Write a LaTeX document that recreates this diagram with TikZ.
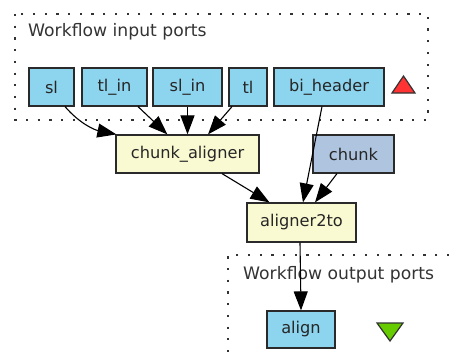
\documentclass[tikz,border=0pt]{standalone}
\usepackage{fontspec}
\setmainfont{DejaVu Sans}
\usetikzlibrary{arrows.meta,calc}
\definecolor{portblue}{HTML}{8DD4EE}
\definecolor{procyel}{HTML}{FAFAD2}
\definecolor{constblue}{HTML}{AFC4DE}
\definecolor{edgegray}{HTML}{2A2A2A}
\definecolor{trired}{HTML}{FF3333}
\definecolor{trigreen}{HTML}{66CC00}
\tikzset{
  box/.style={draw=edgegray, line width=1.2pt, rectangle, inner sep=0pt,
    font=\fontsize{16.2}{19}\selectfont, text=black!85, minimum height=38pt},
  port/.style={box, fill=portblue},
  proc/.style={box, fill=procyel},
  const/.style={box, fill=constblue},
  cluster/.style={draw=black!80, line width=2.2pt, dash pattern=on 2.2pt off 9.5pt},
  edge/.style={draw=black, line width=1.1pt, -{Triangle[length=19pt,width=14pt]}},
  title/.style={font=\fontsize{17.2}{20}\selectfont, text=black!80, anchor=base west, inner sep=0pt},
}
\begin{document}
\begin{tikzpicture}[x=1pt,y=-1pt]
\useasboundingbox (0,0) rectangle (449,361);
% clusters
\draw[cluster] (15,14) rectangle (428,120);
\draw[cluster] (449,255) -- (228,255) -- (228,361);
\node[title] (tin) at (28,37) {Workflow input ports};
\node[title] (tout) at (243,279) {Workflow output ports};
% nodes
\node[port, minimum width=45pt] (sl) at (51.5,87) {sl};
\node[port, minimum width=65pt] (tlin) at (114.5,87) {tl\_in};
\node[port, minimum width=69pt] (slin) at (187.5,87) {sl\_in};
\node[port, minimum width=38pt] (tl) at (248,87) {tl};
\node[port, minimum width=110pt] (bih) at (329,87) {bi\_header};
\node[proc, minimum width=143pt] (ca) at (187.5,154) {chunk\_aligner};
\node[const, minimum width=81pt] (chunk) at (353.5,154) {chunk};
\node[proc, minimum width=109pt, minimum height=39pt] (a2) at (301.5,222.5) {aligner2to};
\node[port, minimum width=68pt, minimum height=37pt] (align) at (301,329.5) {align};
% triangles
\filldraw[fill=trired, draw=black!80, line width=1.2pt, line join=miter] (392,93) -- (415,93) -- (403.5,76) -- cycle;
\filldraw[fill=trigreen, draw=black!80, line width=1.2pt, line join=miter] (377,323) -- (403,323) -- (390,341) -- cycle;
% edges
\draw[edge] ($(sl.south)+(13.5,0)$) .. controls (80,124) and (95,130) .. ($(ca.north west)+(1,0)$);
\draw[edge] ($(tlin.south)+(23.5,0)$) -- ($(ca.north west)+(52,0)$);
\draw[edge] (slin.south) -- (ca.north);
\draw[edge] ($(tl.south)+(-16,0)$) -- ($(ca.north)+(20.5,0)$);
\draw[edge] ($(bih.south)+(-7,0)$) -- ($(a2.north)+(1.5,0)$);
\draw[edge] ($(chunk.south)+(-16.5,0)$) -- ($(a2.north)+(13.5,0)$);
\draw[edge] ($(ca.south)+(34.5,0)$) -- ($(a2.north)+(-32,0)$);
\draw[edge] ($(a2.south)+(-1.5,0)$) -- (align.north);
\end{tikzpicture}
\end{document}
